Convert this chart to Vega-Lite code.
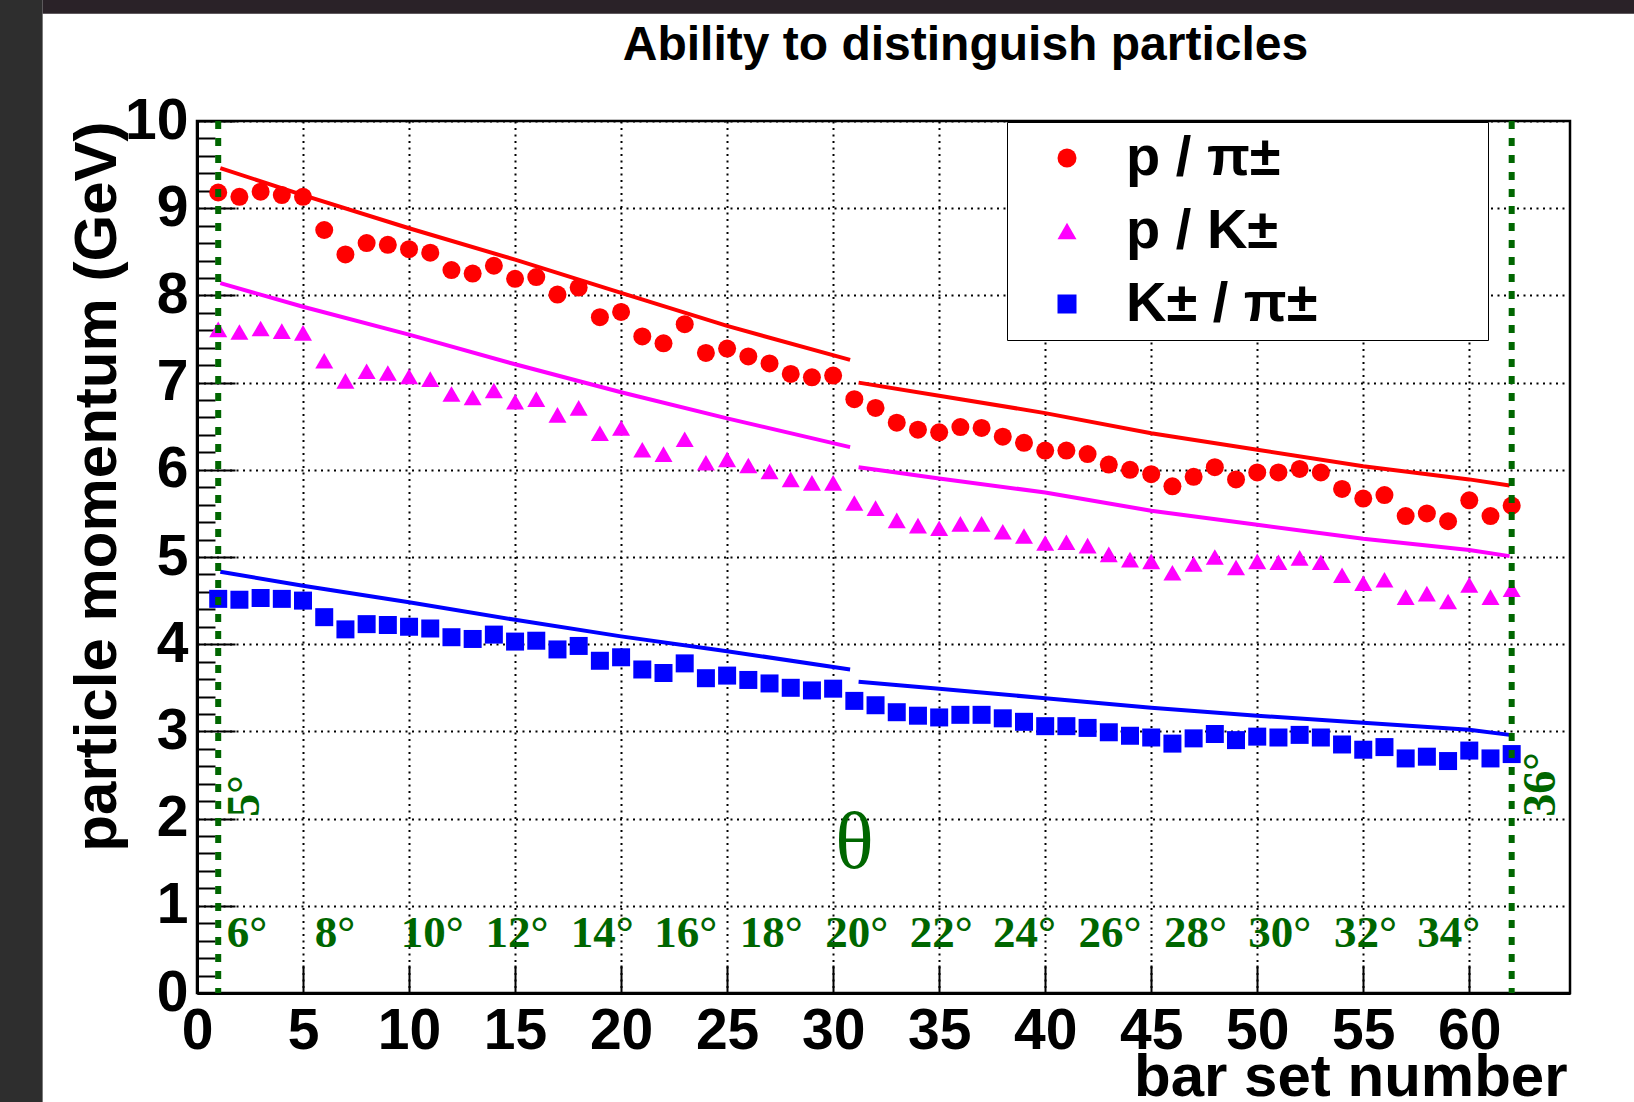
{
  "$schema": "https://vega.github.io/schema/vega-lite/v6.json",
  "width": 1373,
  "height": 872,
  "autosize": {"type": "none"},
  "padding": {"left": 197, "top": 121, "right": 64, "bottom": 109},
  "background": "white",
  "title": {"text": "Ability to distinguish particles", "font": "Liberation Sans", "fontSize": 48, "fontWeight": "bold", "color": "black", "anchor": "middle", "frame": "group", "dx": 82, "baseline": "alphabetic", "offset": 0, "dy": 108},
  "config": {
    "view": {"stroke": "black", "strokeWidth": 2.5}
  },
  "datasets": {
    "points": [
      {"bar": 1, "p": 9.18, "s": "p / π±"}, {"bar": 2, "p": 9.13, "s": "p / π±"}, {"bar": 3, "p": 9.19, "s": "p / π±"}, {"bar": 4, "p": 9.15, "s": "p / π±"}, {"bar": 5, "p": 9.13, "s": "p / π±"},
      {"bar": 6, "p": 8.75, "s": "p / π±"}, {"bar": 7, "p": 8.47, "s": "p / π±"}, {"bar": 8, "p": 8.60, "s": "p / π±"}, {"bar": 9, "p": 8.58, "s": "p / π±"}, {"bar": 10, "p": 8.53, "s": "p / π±"},
      {"bar": 11, "p": 8.49, "s": "p / π±"}, {"bar": 12, "p": 8.29, "s": "p / π±"}, {"bar": 13, "p": 8.25, "s": "p / π±"}, {"bar": 14, "p": 8.34, "s": "p / π±"}, {"bar": 15, "p": 8.19, "s": "p / π±"},
      {"bar": 16, "p": 8.21, "s": "p / π±"}, {"bar": 17, "p": 8.01, "s": "p / π±"}, {"bar": 18, "p": 8.09, "s": "p / π±"}, {"bar": 19, "p": 7.75, "s": "p / π±"}, {"bar": 20, "p": 7.81, "s": "p / π±"},
      {"bar": 21, "p": 7.53, "s": "p / π±"}, {"bar": 22, "p": 7.45, "s": "p / π±"}, {"bar": 23, "p": 7.67, "s": "p / π±"}, {"bar": 24, "p": 7.34, "s": "p / π±"}, {"bar": 25, "p": 7.39, "s": "p / π±"},
      {"bar": 26, "p": 7.30, "s": "p / π±"}, {"bar": 27, "p": 7.22, "s": "p / π±"}, {"bar": 28, "p": 7.10, "s": "p / π±"}, {"bar": 29, "p": 7.06, "s": "p / π±"}, {"bar": 30, "p": 7.08, "s": "p / π±"},
      {"bar": 31, "p": 6.81, "s": "p / π±"}, {"bar": 32, "p": 6.71, "s": "p / π±"}, {"bar": 33, "p": 6.54, "s": "p / π±"}, {"bar": 34, "p": 6.46, "s": "p / π±"}, {"bar": 35, "p": 6.43, "s": "p / π±"},
      {"bar": 36, "p": 6.49, "s": "p / π±"}, {"bar": 37, "p": 6.48, "s": "p / π±"}, {"bar": 38, "p": 6.38, "s": "p / π±"}, {"bar": 39, "p": 6.31, "s": "p / π±"}, {"bar": 40, "p": 6.22, "s": "p / π±"},
      {"bar": 41, "p": 6.22, "s": "p / π±"}, {"bar": 42, "p": 6.18, "s": "p / π±"}, {"bar": 43, "p": 6.06, "s": "p / π±"}, {"bar": 44, "p": 6.00, "s": "p / π±"}, {"bar": 45, "p": 5.95, "s": "p / π±"},
      {"bar": 46, "p": 5.81, "s": "p / π±"}, {"bar": 47, "p": 5.92, "s": "p / π±"}, {"bar": 48, "p": 6.03, "s": "p / π±"}, {"bar": 49, "p": 5.89, "s": "p / π±"}, {"bar": 50, "p": 5.97, "s": "p / π±"},
      {"bar": 51, "p": 5.97, "s": "p / π±"}, {"bar": 52, "p": 6.01, "s": "p / π±"}, {"bar": 53, "p": 5.97, "s": "p / π±"}, {"bar": 54, "p": 5.78, "s": "p / π±"}, {"bar": 55, "p": 5.67, "s": "p / π±"},
      {"bar": 56, "p": 5.71, "s": "p / π±"}, {"bar": 57, "p": 5.47, "s": "p / π±"}, {"bar": 58, "p": 5.50, "s": "p / π±"}, {"bar": 59, "p": 5.41, "s": "p / π±"}, {"bar": 60, "p": 5.65, "s": "p / π±"},
      {"bar": 61, "p": 5.47, "s": "p / π±"}, {"bar": 62, "p": 5.59, "s": "p / π±"},
      {"bar": 1, "p": 7.61, "s": "p / K±"}, {"bar": 2, "p": 7.58, "s": "p / K±"}, {"bar": 3, "p": 7.62, "s": "p / K±"}, {"bar": 4, "p": 7.59, "s": "p / K±"}, {"bar": 5, "p": 7.57, "s": "p / K±"},
      {"bar": 6, "p": 7.25, "s": "p / K±"}, {"bar": 7, "p": 7.02, "s": "p / K±"}, {"bar": 8, "p": 7.13, "s": "p / K±"}, {"bar": 9, "p": 7.11, "s": "p / K±"}, {"bar": 10, "p": 7.07, "s": "p / K±"},
      {"bar": 11, "p": 7.04, "s": "p / K±"}, {"bar": 12, "p": 6.87, "s": "p / K±"}, {"bar": 13, "p": 6.83, "s": "p / K±"}, {"bar": 14, "p": 6.91, "s": "p / K±"}, {"bar": 15, "p": 6.78, "s": "p / K±"},
      {"bar": 16, "p": 6.81, "s": "p / K±"}, {"bar": 17, "p": 6.63, "s": "p / K±"}, {"bar": 18, "p": 6.71, "s": "p / K±"}, {"bar": 19, "p": 6.42, "s": "p / K±"}, {"bar": 20, "p": 6.48, "s": "p / K±"},
      {"bar": 21, "p": 6.23, "s": "p / K±"}, {"bar": 22, "p": 6.18, "s": "p / K±"}, {"bar": 23, "p": 6.35, "s": "p / K±"}, {"bar": 24, "p": 6.08, "s": "p / K±"}, {"bar": 25, "p": 6.12, "s": "p / K±"},
      {"bar": 26, "p": 6.05, "s": "p / K±"}, {"bar": 27, "p": 5.98, "s": "p / K±"}, {"bar": 28, "p": 5.89, "s": "p / K±"}, {"bar": 29, "p": 5.85, "s": "p / K±"}, {"bar": 30, "p": 5.85, "s": "p / K±"},
      {"bar": 31, "p": 5.62, "s": "p / K±"}, {"bar": 32, "p": 5.56, "s": "p / K±"}, {"bar": 33, "p": 5.42, "s": "p / K±"}, {"bar": 34, "p": 5.36, "s": "p / K±"}, {"bar": 35, "p": 5.33, "s": "p / K±"},
      {"bar": 36, "p": 5.38, "s": "p / K±"}, {"bar": 37, "p": 5.38, "s": "p / K±"}, {"bar": 38, "p": 5.29, "s": "p / K±"}, {"bar": 39, "p": 5.24, "s": "p / K±"}, {"bar": 40, "p": 5.16, "s": "p / K±"},
      {"bar": 41, "p": 5.17, "s": "p / K±"}, {"bar": 42, "p": 5.13, "s": "p / K±"}, {"bar": 43, "p": 5.03, "s": "p / K±"}, {"bar": 44, "p": 4.97, "s": "p / K±"}, {"bar": 45, "p": 4.95, "s": "p / K±"},
      {"bar": 46, "p": 4.82, "s": "p / K±"}, {"bar": 47, "p": 4.92, "s": "p / K±"}, {"bar": 48, "p": 5.00, "s": "p / K±"}, {"bar": 49, "p": 4.88, "s": "p / K±"}, {"bar": 50, "p": 4.95, "s": "p / K±"},
      {"bar": 51, "p": 4.94, "s": "p / K±"}, {"bar": 52, "p": 4.99, "s": "p / K±"}, {"bar": 53, "p": 4.94, "s": "p / K±"}, {"bar": 54, "p": 4.79, "s": "p / K±"}, {"bar": 55, "p": 4.70, "s": "p / K±"},
      {"bar": 56, "p": 4.74, "s": "p / K±"}, {"bar": 57, "p": 4.54, "s": "p / K±"}, {"bar": 58, "p": 4.58, "s": "p / K±"}, {"bar": 59, "p": 4.49, "s": "p / K±"}, {"bar": 60, "p": 4.68, "s": "p / K±"},
      {"bar": 61, "p": 4.54, "s": "p / K±"}, {"bar": 62, "p": 4.63, "s": "p / K±"},
      {"bar": 1, "p": 4.52, "s": "K± / π±"}, {"bar": 2, "p": 4.51, "s": "K± / π±"}, {"bar": 3, "p": 4.53, "s": "K± / π±"}, {"bar": 4, "p": 4.52, "s": "K± / π±"}, {"bar": 5, "p": 4.50, "s": "K± / π±"},
      {"bar": 6, "p": 4.31, "s": "K± / π±"}, {"bar": 7, "p": 4.17, "s": "K± / π±"}, {"bar": 8, "p": 4.23, "s": "K± / π±"}, {"bar": 9, "p": 4.22, "s": "K± / π±"}, {"bar": 10, "p": 4.20, "s": "K± / π±"},
      {"bar": 11, "p": 4.18, "s": "K± / π±"}, {"bar": 12, "p": 4.08, "s": "K± / π±"}, {"bar": 13, "p": 4.06, "s": "K± / π±"}, {"bar": 14, "p": 4.11, "s": "K± / π±"}, {"bar": 15, "p": 4.03, "s": "K± / π±"},
      {"bar": 16, "p": 4.04, "s": "K± / π±"}, {"bar": 17, "p": 3.94, "s": "K± / π±"}, {"bar": 18, "p": 3.98, "s": "K± / π±"}, {"bar": 19, "p": 3.81, "s": "K± / π±"}, {"bar": 20, "p": 3.85, "s": "K± / π±"},
      {"bar": 21, "p": 3.71, "s": "K± / π±"}, {"bar": 22, "p": 3.67, "s": "K± / π±"}, {"bar": 23, "p": 3.78, "s": "K± / π±"}, {"bar": 24, "p": 3.61, "s": "K± / π±"}, {"bar": 25, "p": 3.64, "s": "K± / π±"},
      {"bar": 26, "p": 3.59, "s": "K± / π±"}, {"bar": 27, "p": 3.55, "s": "K± / π±"}, {"bar": 28, "p": 3.50, "s": "K± / π±"}, {"bar": 29, "p": 3.47, "s": "K± / π±"}, {"bar": 30, "p": 3.49, "s": "K± / π±"},
      {"bar": 31, "p": 3.35, "s": "K± / π±"}, {"bar": 32, "p": 3.30, "s": "K± / π±"}, {"bar": 33, "p": 3.22, "s": "K± / π±"}, {"bar": 34, "p": 3.18, "s": "K± / π±"}, {"bar": 35, "p": 3.16, "s": "K± / π±"},
      {"bar": 36, "p": 3.19, "s": "K± / π±"}, {"bar": 37, "p": 3.19, "s": "K± / π±"}, {"bar": 38, "p": 3.15, "s": "K± / π±"}, {"bar": 39, "p": 3.11, "s": "K± / π±"}, {"bar": 40, "p": 3.06, "s": "K± / π±"},
      {"bar": 41, "p": 3.06, "s": "K± / π±"}, {"bar": 42, "p": 3.04, "s": "K± / π±"}, {"bar": 43, "p": 2.99, "s": "K± / π±"}, {"bar": 44, "p": 2.95, "s": "K± / π±"}, {"bar": 45, "p": 2.93, "s": "K± / π±"},
      {"bar": 46, "p": 2.86, "s": "K± / π±"}, {"bar": 47, "p": 2.92, "s": "K± / π±"}, {"bar": 48, "p": 2.97, "s": "K± / π±"}, {"bar": 49, "p": 2.90, "s": "K± / π±"}, {"bar": 50, "p": 2.94, "s": "K± / π±"},
      {"bar": 51, "p": 2.93, "s": "K± / π±"}, {"bar": 52, "p": 2.96, "s": "K± / π±"}, {"bar": 53, "p": 2.93, "s": "K± / π±"}, {"bar": 54, "p": 2.85, "s": "K± / π±"}, {"bar": 55, "p": 2.79, "s": "K± / π±"},
      {"bar": 56, "p": 2.82, "s": "K± / π±"}, {"bar": 57, "p": 2.69, "s": "K± / π±"}, {"bar": 58, "p": 2.71, "s": "K± / π±"}, {"bar": 59, "p": 2.66, "s": "K± / π±"}, {"bar": 60, "p": 2.78, "s": "K± / π±"},
      {"bar": 61, "p": 2.69, "s": "K± / π±"}, {"bar": 62, "p": 2.74, "s": "K± / π±"}
    ],
    "limits": [
      {"bar": 1.1, "p": 9.46, "s": "p / π±", "seg": "a"}, {"bar": 5, "p": 9.15, "s": "p / π±", "seg": "a"}, {"bar": 10, "p": 8.77, "s": "p / π±", "seg": "a"}, {"bar": 15, "p": 8.41, "s": "p / π±", "seg": "a"}, {"bar": 20, "p": 8.03, "s": "p / π±", "seg": "a"}, {"bar": 25, "p": 7.65, "s": "p / π±", "seg": "a"}, {"bar": 30.8, "p": 7.26, "s": "p / π±", "seg": "a"},
      {"bar": 31.2, "p": 7.00, "s": "p / π±", "seg": "b"}, {"bar": 35, "p": 6.85, "s": "p / π±", "seg": "b"}, {"bar": 40, "p": 6.65, "s": "p / π±", "seg": "b"}, {"bar": 45, "p": 6.42, "s": "p / π±", "seg": "b"}, {"bar": 50, "p": 6.23, "s": "p / π±", "seg": "b"}, {"bar": 55, "p": 6.04, "s": "p / π±", "seg": "b"}, {"bar": 60, "p": 5.89, "s": "p / π±", "seg": "b"}, {"bar": 61.9, "p": 5.82, "s": "p / π±", "seg": "b"},
      {"bar": 1.1, "p": 8.14, "s": "p / K±", "seg": "a"}, {"bar": 5, "p": 7.87, "s": "p / K±", "seg": "a"}, {"bar": 10, "p": 7.55, "s": "p / K±", "seg": "a"}, {"bar": 15, "p": 7.21, "s": "p / K±", "seg": "a"}, {"bar": 20, "p": 6.89, "s": "p / K±", "seg": "a"}, {"bar": 25, "p": 6.59, "s": "p / K±", "seg": "a"}, {"bar": 30.8, "p": 6.26, "s": "p / K±", "seg": "a"},
      {"bar": 31.2, "p": 6.03, "s": "p / K±", "seg": "b"}, {"bar": 35, "p": 5.90, "s": "p / K±", "seg": "b"}, {"bar": 40, "p": 5.74, "s": "p / K±", "seg": "b"}, {"bar": 45, "p": 5.53, "s": "p / K±", "seg": "b"}, {"bar": 50, "p": 5.37, "s": "p / K±", "seg": "b"}, {"bar": 55, "p": 5.21, "s": "p / K±", "seg": "b"}, {"bar": 60, "p": 5.08, "s": "p / K±", "seg": "b"}, {"bar": 61.9, "p": 5.01, "s": "p / K±", "seg": "b"},
      {"bar": 1.1, "p": 4.83, "s": "K± / π±", "seg": "a"}, {"bar": 5, "p": 4.67, "s": "K± / π±", "seg": "a"}, {"bar": 10, "p": 4.48, "s": "K± / π±", "seg": "a"}, {"bar": 15, "p": 4.28, "s": "K± / π±", "seg": "a"}, {"bar": 20, "p": 4.09, "s": "K± / π±", "seg": "a"}, {"bar": 25, "p": 3.92, "s": "K± / π±", "seg": "a"}, {"bar": 30.8, "p": 3.71, "s": "K± / π±", "seg": "a"},
      {"bar": 31.2, "p": 3.57, "s": "K± / π±", "seg": "b"}, {"bar": 35, "p": 3.49, "s": "K± / π±", "seg": "b"}, {"bar": 40, "p": 3.38, "s": "K± / π±", "seg": "b"}, {"bar": 45, "p": 3.27, "s": "K± / π±", "seg": "b"}, {"bar": 50, "p": 3.18, "s": "K± / π±", "seg": "b"}, {"bar": 55, "p": 3.10, "s": "K± / π±", "seg": "b"}, {"bar": 60, "p": 3.02, "s": "K± / π±", "seg": "b"}, {"bar": 61.9, "p": 2.96, "s": "K± / π±", "seg": "b"}
    ],
    "edges": [{"bar": 1}, {"bar": 62}],
    "angles": [
      {"bar": 1.40, "p": 0.53, "label": "6°"}, {"bar": 5.55, "p": 0.53, "label": "8°"}, {"bar": 9.61, "p": 0.53, "label": "10°"}, {"bar": 13.60, "p": 0.53, "label": "12°"}, {"bar": 17.63, "p": 0.53, "label": "14°"},
      {"bar": 21.56, "p": 0.53, "label": "16°"}, {"bar": 25.59, "p": 0.53, "label": "18°"}, {"bar": 29.63, "p": 0.53, "label": "20°"}, {"bar": 33.61, "p": 0.53, "label": "22°"}, {"bar": 37.54, "p": 0.53, "label": "24°"},
      {"bar": 41.57, "p": 0.53, "label": "26°"}, {"bar": 45.60, "p": 0.53, "label": "28°"}, {"bar": 49.58, "p": 0.53, "label": "30°"}, {"bar": 53.62, "p": 0.53, "label": "32°"}, {"bar": 57.55, "p": 0.53, "label": "34°"}
    ],
    "endAngles": [{"bar": 2.91, "p": 2.02, "label": "5°"}, {"bar": 64.03, "p": 2.02, "label": "36°"}],
    "theta": [{"bar": 31.0, "p": 1.43, "label": "θ"}]
  },
  "layer": [
    {
      "data": {"values": [{}]},
      "mark": {"type": "rect", "color": "#2e2e2e", "clip": false},
      "encoding": {
        "x": {"datum": -9.31, "type": "quantitative"}, "x2": {"datum": -7.28},
        "y": {"datum": -1.26, "type": "quantitative"}, "y2": {"datum": 11.39}
      }
    },
    {
      "data": {"values": [{}]},
      "mark": {"type": "rect", "color": "#2a2228", "clip": false},
      "encoding": {
        "x": {"datum": -7.28, "type": "quantitative"}, "x2": {"datum": 67.8},
        "y": {"datum": 11.23, "type": "quantitative"}, "y2": {"datum": 11.39}
      }
    },
    {
      "data": {"name": "limits"},
      "mark": {"type": "line", "strokeWidth": 4},
      "encoding": {
        "x": {"field": "bar", "type": "quantitative"},
        "y": {"field": "p", "type": "quantitative"},
        "stroke": {"field": "s", "type": "nominal", "scale": {"domain": ["K± / π±", "p / K±", "p / π±"], "range": ["#0000ff", "#ff00ff", "#ff0000"]}, "legend": null},
        "detail": {"field": "seg"}
      }
    },
    {
      "data": {"name": "points"},
      "mark": {"type": "point", "filled": true, "opacity": 1, "size": 324, "strokeWidth": 0},
      "encoding": {
        "x": {
          "field": "bar", "type": "quantitative",
          "scale": {"domain": [0, 64.75], "nice": false, "zero": false},
          "axis": {
            "values": [0, 5, 10, 15, 20, 25, 30, 35, 40, 45, 50, 55, 60], "tickCount": 100,
            "grid": true, "gridColor": "black", "gridDash": [2, 4.5], "gridWidth": 2, "gridOpacity": 1,
            "ticks": true, "tickSize": -28, "tickWidth": 2, "tickColor": "black",
            "domain": true, "domainColor": "black", "domainWidth": 3,
            "labelFont": "Liberation Sans", "labelFontWeight": "bold", "labelFontSize": 57, "labelColor": "black",
            "labelPadding": 38, "labelBaseline": "top", "labelOverlap": false, "labelFlush": false, "format": ".0f",
            "title": "bar set number", "titleFont": "Liberation Sans", "titleFontWeight": "bold", "titleFontSize": 60, "titleColor": "black",
            "titleX": 1370, "titleY": 102, "titleAlign": "right", "titleBaseline": "alphabetic", "titleAngle": 0
          }
        },
        "y": {
          "field": "p", "type": "quantitative",
          "scale": {"domain": [0, 10], "nice": false},
          "axis": {
            "values": [0, 0.2, 0.4, 0.6, 0.8, 1, 1.2, 1.4, 1.6, 1.8, 2, 2.2, 2.4, 2.6, 2.8, 3, 3.2, 3.4, 3.6, 3.8, 4, 4.2, 4.4, 4.6, 4.8, 5, 5.2, 5.4, 5.6, 5.8, 6, 6.2, 6.4, 6.6, 6.8, 7, 7.2, 7.4, 7.6, 7.8, 8, 8.2, 8.4, 8.6, 8.8, 9, 9.2, 9.4, 9.6, 9.8, 10],
            "tickCount": 200,
            "grid": true, "gridColor": "black", "gridDash": [2, 4.5], "gridWidth": 2,
            "gridOpacity": {"condition": {"test": "abs(datum.value - round(datum.value)) < 0.01", "value": 1}, "value": 0},
            "ticks": true, "tickWidth": 2, "tickColor": "black",
            "tickSize": {"condition": {"test": "abs(datum.value - round(datum.value)) < 0.01", "value": -38}, "value": -18},
            "domain": true, "domainColor": "black", "domainWidth": 3,
            "format": ".0f",
            "labelExpr": "abs(datum.value - round(datum.value)) < 0.01 ? datum.label : ''",
            "labelFont": "Liberation Sans", "labelFontWeight": "bold", "labelFontSize": 57, "labelColor": "black",
            "labelPadding": 47, "labelBaseline": "middle", "labelOverlap": false, "labelFlush": false,
            "title": "particle momentum (GeV)", "titleFont": "Liberation Sans", "titleFontWeight": "bold", "titleFontSize": 60, "titleColor": "black",
            "titleX": -82, "titleY": 0, "titleAngle": 270, "titleAlign": "right", "titleBaseline": "alphabetic"
          }
        },
        "color": {
          "field": "s", "type": "nominal",
          "scale": {"domain": ["p / π±", "p / K±", "K± / π±"], "range": ["#ff0000", "#ff00ff", "#0000ff"]},
          "legend": {
            "title": " ", "titleOrient": "right", "titlePadding": 163, "titleFontSize": 10,
            "orient": "none", "legendX": 810, "legendY": 1, "padding": 8,
            "strokeColor": "black", "fillColor": "white",
            "symbolOffset": 24, "symbolSize": 361, "symbolStrokeWidth": 0, "symbolOpacity": 1,
            "labelOffset": 31, "labelFont": "Liberation Sans", "labelFontWeight": "bold", "labelFontSize": 56, "labelColor": "black", "labelLimit": 500,
            "rowPadding": 17
          }
        },
        "shape": {
          "field": "s", "type": "nominal",
          "scale": {"domain": ["p / π±", "p / K±", "K± / π±"], "range": ["circle", "triangle-up", "square"]}
        }
      }
    },
    {
      "data": {"name": "edges"},
      "mark": {"type": "rule", "color": "#006600", "strokeWidth": 6, "strokeDash": [8, 9]},
      "encoding": {"x": {"field": "bar", "type": "quantitative"}}
    },
    {
      "data": {"name": "angles"},
      "mark": {"type": "text", "font": "Liberation Serif", "fontWeight": "bold", "fontSize": 45, "color": "#006600", "align": "left", "baseline": "alphabetic"},
      "encoding": {
        "x": {"field": "bar", "type": "quantitative"},
        "y": {"field": "p", "type": "quantitative"},
        "text": {"field": "label"}
      }
    },
    {
      "data": {"name": "endAngles"},
      "mark": {"type": "text", "font": "Liberation Serif", "fontWeight": "bold", "fontSize": 46, "color": "#006600", "align": "left", "baseline": "alphabetic", "angle": 270},
      "encoding": {
        "x": {"field": "bar", "type": "quantitative"},
        "y": {"field": "p", "type": "quantitative"},
        "text": {"field": "label"}
      }
    },
    {
      "data": {"name": "theta"},
      "mark": {"type": "text", "font": "Liberation Serif", "fontSize": 80, "color": "#006600", "align": "center", "baseline": "alphabetic"},
      "encoding": {
        "x": {"field": "bar", "type": "quantitative"},
        "y": {"field": "p", "type": "quantitative"},
        "text": {"field": "label"}
      }
    }
  ]
}
